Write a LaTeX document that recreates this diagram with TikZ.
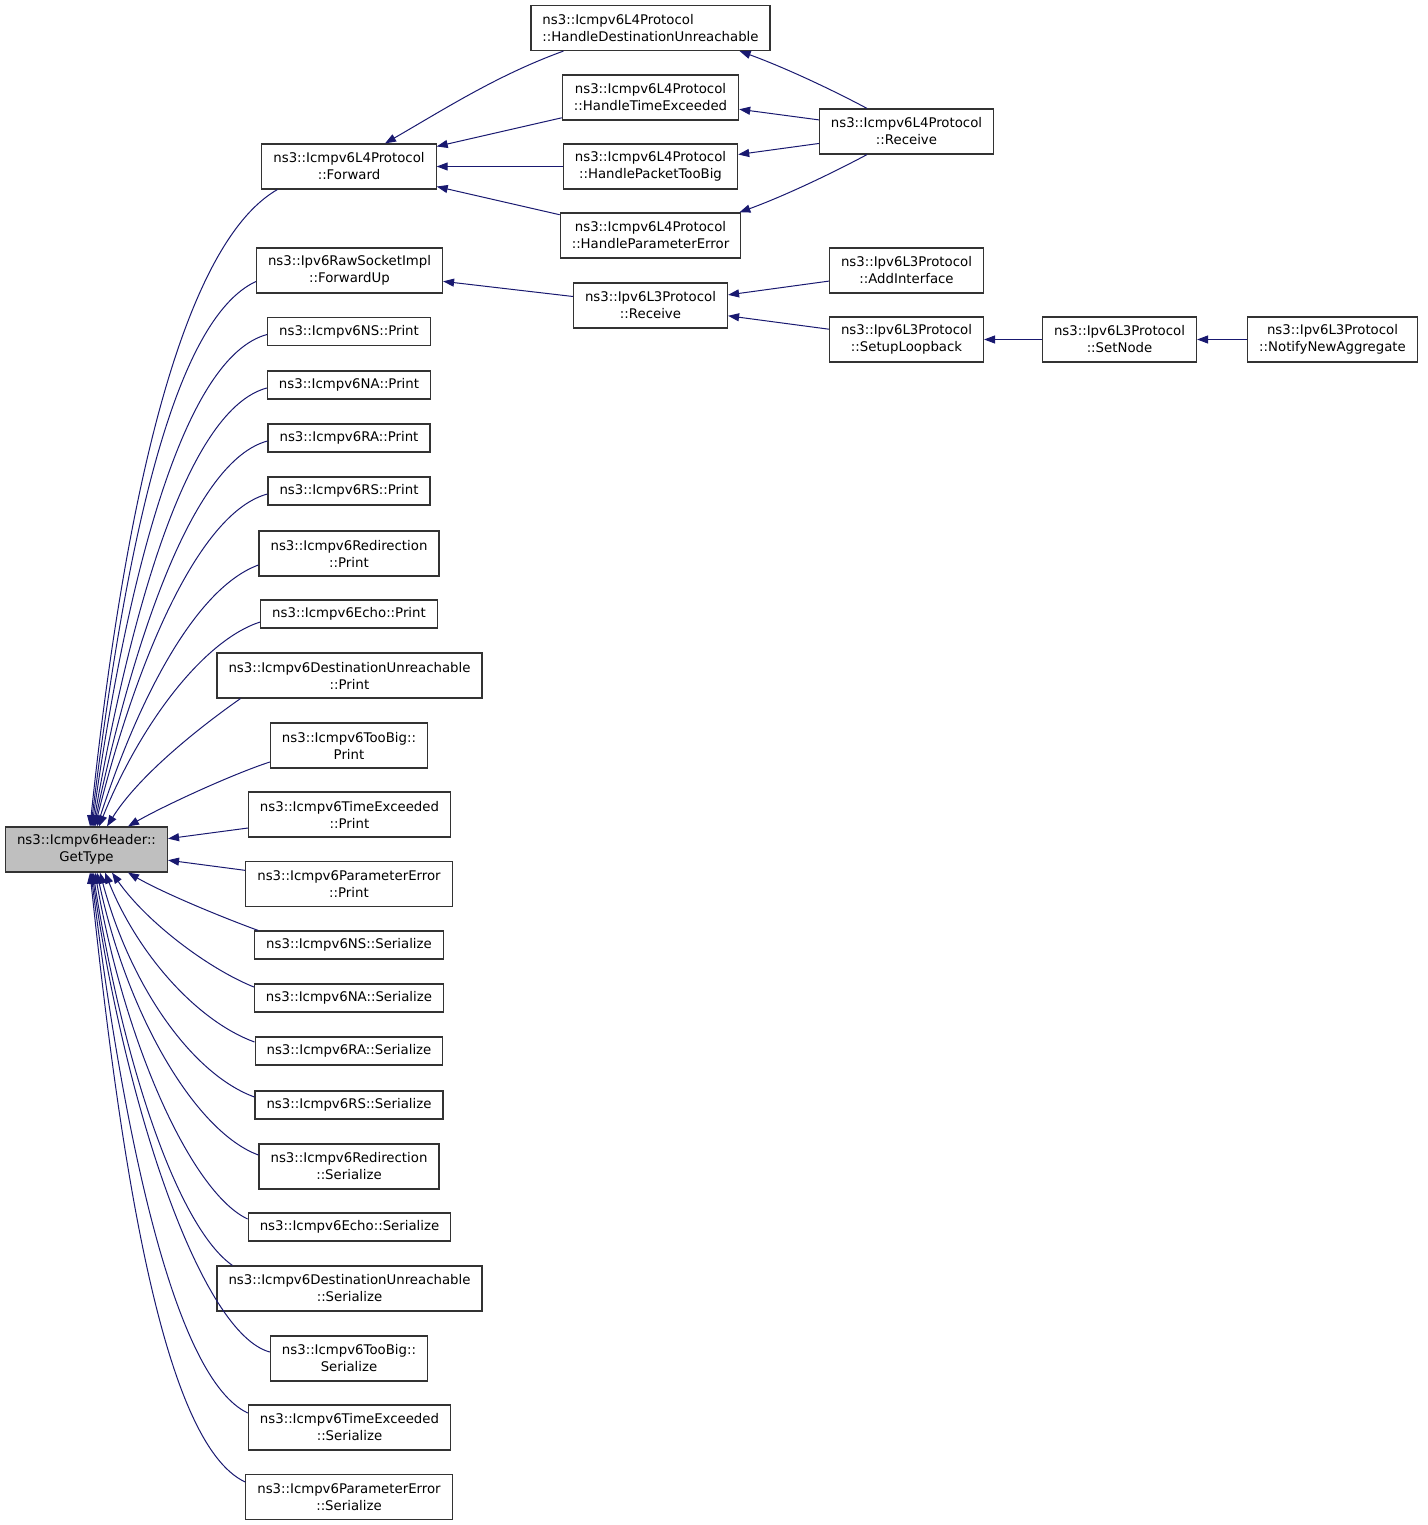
\documentclass[tikz,border=0pt]{standalone}
\usepackage{fontspec}
\setmainfont{DejaVu Sans}
\usetikzlibrary{arrows.meta}
\definecolor{callblue}{HTML}{191970}

\begin{document}
\begin{tikzpicture}[x=1pt,y=1pt,
    two/.style={minimum height=45pt},
    swing/.style n args={4}{out=#1,out distance=#2pt,in=#3,in distance=#4pt}]

      \useasboundingbox (0,0) rectangle (1427,-1525);

      \begin{scope}[every node/.style={rectangle,draw=black!80,line width=1.2pt,fill=white,
          minimum height=28pt,inner xsep=11.5pt,inner ysep=2pt,align=center,
          font=\fontsize{13.3}{17}\selectfont}]
        \node[two,fill=black!25] (1) at (86.5,-849.5) {ns3::Icmpv6Header::\\GetType};
        \node[two] (2)  at (349,-166.5)   {ns3::Icmpv6L4Protocol\\::Forward};
        \node[two] (3)  at (349.5,-270.5) {ns3::Ipv6RawSocketImpl\\::ForwardUp};
        \node (4)       at (349,-331.5)   {ns3::Icmpv6NS::Print};
        \node (5)       at (349,-385)     {ns3::Icmpv6NA::Print};
        \node (6)       at (349,-438)     {ns3::Icmpv6RA::Print};
        \node (7)       at (349,-491)     {ns3::Icmpv6RS::Print};
        \node[two] (8)  at (349,-553.5)   {ns3::Icmpv6Redirection\\::Print};
        \node (9)       at (349,-614)     {ns3::Icmpv6Echo::Print};
        \node[two] (10) at (349.5,-675.5) {ns3::Icmpv6DestinationUnreachable\\::Print};
        \node[two] (11) at (349,-745.5)   {ns3::Icmpv6TooBig::\\Print};
        \node[two] (12) at (349.5,-814.5) {ns3::Icmpv6TimeExceeded\\::Print};
        \node[two] (13) at (349,-884)     {ns3::Icmpv6ParameterError\\::Print};
        \node (14)      at (349,-945)     {ns3::Icmpv6NS::Serialize};
        \node (15)      at (349,-998)     {ns3::Icmpv6NA::Serialize};
        \node (16)      at (349,-1051)    {ns3::Icmpv6RA::Serialize};
        \node (17)      at (349,-1105)    {ns3::Icmpv6RS::Serialize};
        \node[two] (18) at (349,-1166.5)  {ns3::Icmpv6Redirection\\::Serialize};
        \node (19)      at (349.5,-1227)  {ns3::Icmpv6Echo::Serialize};
        \node[two] (20) at (349.5,-1288.5) {ns3::Icmpv6DestinationUnreachable\\::Serialize};
        \node[two] (21) at (349,-1358.5)  {ns3::Icmpv6TooBig::\\Serialize};
        \node[two] (22) at (349.5,-1427.5) {ns3::Icmpv6TimeExceeded\\::Serialize};
        \node[two] (23) at (349,-1497)    {ns3::Icmpv6ParameterError\\::Serialize};
        \node[two,align=left] (24) at (650.5,-28) {ns3::Icmpv6L4Protocol\\::HandleDestinationUnreachable};
        \node[two] (25) at (650.5,-97.5)  {ns3::Icmpv6L4Protocol\\::HandleTimeExceeded};
        \node[two] (26) at (650.5,-166.5) {ns3::Icmpv6L4Protocol\\::HandlePacketTooBig};
        \node[two] (27) at (650.5,-235.5) {ns3::Icmpv6L4Protocol\\::HandleParameterError};
        \node[two] (28) at (906.5,-131.5) {ns3::Icmpv6L4Protocol\\::Receive};
        \node[two] (29) at (650.5,-305.5) {ns3::Ipv6L3Protocol\\::Receive};
        \node[two] (30) at (906.5,-270.5) {ns3::Ipv6L3Protocol\\::AddInterface};
        \node[two] (31) at (906.5,-339.5) {ns3::Ipv6L3Protocol\\::SetupLoopback};
        \node[two] (32) at (1119.5,-339.5) {ns3::Ipv6L3Protocol\\::SetNode};
        \node[two] (33) at (1332.5,-339.5) {ns3::Ipv6L3Protocol\\::NotifyNewAggregate};
      \end{scope}

      \begin{scope}[every edge/.style={draw=callblue,line width=1pt,
          -{Triangle[length=11pt,width=8pt]}}]

        % callers above the header
        \path ([xshift=16pt]2.south west) edge[swing={210}{110}{84}{330}] ([xshift=3.5pt]1.north);
        \path ([yshift=-11pt]3.west)  edge[swing={205}{90}{83}{290}]  ([xshift=4.5pt]1.north);
        \path ([yshift=-3pt]4.west)   edge[swing={195}{85}{82}{260}]  ([xshift=5.5pt]1.north);
        \path ([yshift=-3pt]5.west)   edge[swing={195}{80}{80}{230}]  ([xshift=6.5pt]1.north);
        \path ([yshift=-3pt]6.west)   edge[swing={195}{75}{78}{200}]  ([xshift=7.5pt]1.north);
        \path ([yshift=-3pt]7.west)   edge[swing={195}{70}{76}{175}]  ([xshift=8.5pt]1.north);
        \path ([yshift=-11.5pt]8.west) edge[swing={200}{65}{72}{140}] ([xshift=10.5pt]1.north);
        \path ([yshift=-8pt]9.west)   edge[swing={198}{60}{68}{110}]  ([xshift=12.5pt]1.north);
        \path ([xshift=24pt]10.south west) edge[swing={215}{50}{58}{60}] ([xshift=20.5pt]1.north);
        \path ([yshift=-16.5pt]11.west) edge[swing={198}{40}{30}{40}] ([xshift=41.5pt]1.north);
        \path (12) edge (1);
        \path (13) edge (1);

        % callers below the header
        \path ([xshift=4pt]14.north west) edge[swing={160}{40}{330}{40}] ([xshift=41.5pt]1.south);
        \path ([yshift=11pt]15.west)   edge[swing={158}{50}{305}{60}]  ([xshift=25.5pt]1.south);
        \path ([yshift=9pt]16.west)    edge[swing={160}{60}{292}{90}]  ([xshift=18.5pt]1.south);
        \path ([yshift=8pt]17.west)    edge[swing={160}{65}{285}{120}] ([xshift=13.5pt]1.south);
        \path ([yshift=11.5pt]18.west) edge[swing={160}{65}{282}{150}] ([xshift=10.5pt]1.south);
        \path ([yshift=8pt]19.west)    edge[swing={155}{60}{280}{180}] ([xshift=8.5pt]1.south);
        \path ([xshift=16pt]20.north west) edge[swing={145}{65}{279}{200}] ([xshift=6.5pt]1.south);
        \path ([yshift=6.5pt]21.west)  edge[swing={165}{70}{278}{240}] ([xshift=5.5pt]1.south);
        \path ([yshift=14.5pt]22.west) edge[swing={155}{80}{277}{270}] ([xshift=4.5pt]1.south);
        \path ([yshift=15pt]23.west)   edge[swing={155}{90}{276}{300}] ([xshift=3.5pt]1.south);

        % the right hand part
        \path ([xshift=33pt]24.south west) edge[swing={200}{70}{30}{70}] ([xshift=36pt]2.north);
        \path (25) edge (2);
        \path (26) edge (2);
        \path (27) edge (2);
        \path ([xshift=-39.5pt]28.north) edge[swing={152}{45}{340}{45}] ([xshift=-31pt]24.south east);
        \path (28) edge (25);
        \path (28) edge (26);
        \path ([xshift=-39.5pt]28.south) edge[swing={208}{45}{20}{45}] ([xshift=-2pt]27.north east);
        \path (29) edge (3);
        \path (30) edge (29);
        \path (31) edge (29);
        \path (32) edge (31);
        \path (33) edge (32);
      \end{scope}

    \end{tikzpicture}
\end{document}
